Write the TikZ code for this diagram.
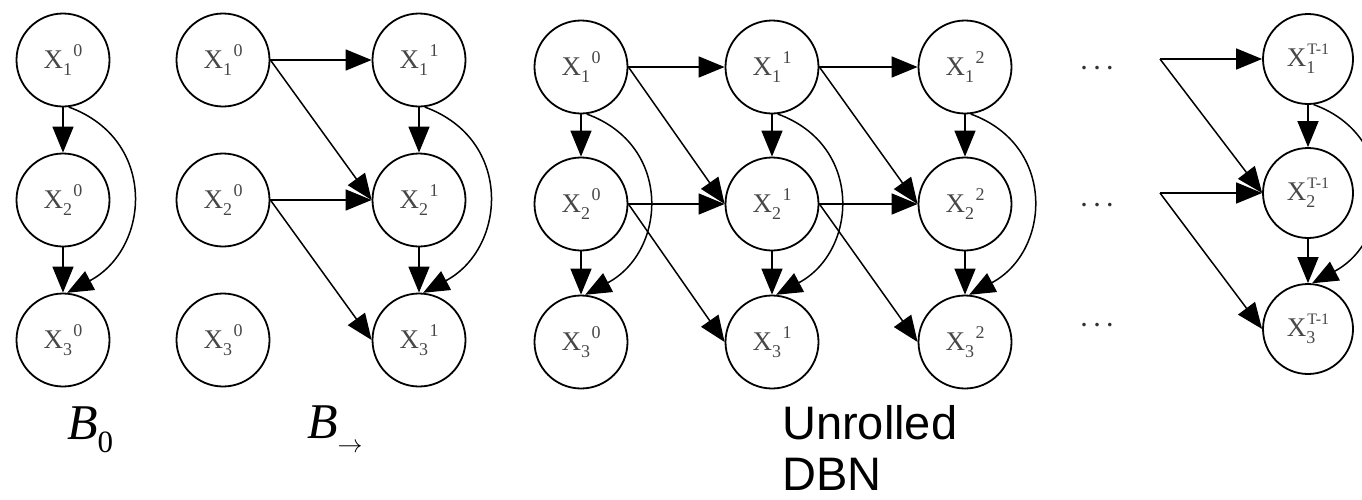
\documentclass[tikz,border=0pt]{standalone}
\usepackage{fontspec}
\setmainfont{Liberation Serif}
\newfontfamily\labelsans{Liberation Sans}
\usetikzlibrary{arrows.meta}

% variable label X_i^t (scripts side by side / stacked)
\newcommand{\xv}[2]{X\raisebox{-7pt}{\fontsize{18}{18}\selectfont #1}\kern1.5pt\raisebox{12pt}{\fontsize{18}{18}\selectfont #2}}
\newcommand{\xvs}[2]{X\rlap{\raisebox{-7pt}{\fontsize{18}{18}\selectfont #1}}\kern1pt\raisebox{12pt}{\fontsize{16}{16}\selectfont #2}}

\tikzset{
  var/.style={circle, draw, line width=1.8pt, minimum size=93pt, inner sep=0pt,
              text=black!72, font=\fontsize{27}{27}\selectfont},
  arr/.style={-{Triangle[length=26pt,width=21pt]}, line width=1.5pt},
  skiparc/.style={arr, out=-20, in=28, looseness=1.3},
  dots/.style={text=black!80, font=\fontsize{22}{22}\selectfont\bfseries, inner sep=0pt},
  caption/.style={anchor=base west, inner sep=0pt}
}

\begin{document}
\begin{tikzpicture}[x=1pt, y=-1pt]
\useasboundingbox (0,0) rectangle (1362,499);

% ---- prior network B_0
\node[var] (a1) at (63,60)  {\xv{1}{0}};
\node[var] (a2) at (63,200) {\xv{2}{0}};
\node[var] (a3) at (63,340) {\xv{3}{0}};
\draw[arr] (a1) -- (a2);
\draw[arr] (a2) -- (a3);
\draw[skiparc] (a1.-83) to (a3.85);

% ---- two-slice transition network
\node[var] (p1) at (223,60)  {\xv{1}{0}};
\node[var] (p2) at (223,200) {\xv{2}{0}};
\node[var] (p3) at (223,340) {\xv{3}{0}};
\node[var] (q1) at (419,60)  {\xv{1}{1}};
\node[var] (q2) at (419,200) {\xv{2}{1}};
\node[var] (q3) at (419,340) {\xv{3}{1}};
\draw[arr] (p1.east) -- (q1.west);
\draw[arr] (p1.east) -- (q2.west);
\draw[arr] (p2.east) -- (q2.west);
\draw[arr] (p2.east) -- (q3.west);
\draw[arr] (q1) -- (q2);
\draw[arr] (q2) -- (q3);
\draw[skiparc] (q1.-83) to (q3.85);

% ---- unrolled network
\foreach \t/\x in {0/581, 1/772, 2/965}{
  \node[var] (u1\t) at (\x,67)  {\xv{1}{\t}};
  \node[var] (u2\t) at (\x,204) {\xv{2}{\t}};
  \node[var] (u3\t) at (\x,342) {\xv{3}{\t}};
  \draw[arr] (u1\t) -- (u2\t);
  \draw[arr] (u2\t) -- (u3\t);
  \draw[skiparc] (u1\t.-83) to (u3\t.85);
}
\foreach \t/\n in {0/1, 1/2}{
  \draw[arr] (u1\t.east) -- (u1\n.west);
  \draw[arr] (u1\t.east) -- (u2\n.west);
  \draw[arr] (u2\t.east) -- (u2\n.west);
  \draw[arr] (u2\t.east) -- (u3\n.west);
}

\node[dots] (d1) at (1097,68)  {. . .};
\node[dots] (d2) at (1097,205) {. . .};
\node[dots] (d3) at (1097,325) {. . .};

% last slice
\node[var, minimum size=90pt] (t1) at (1308,59)  {\xvs{1}{T-1}};
\node[var, minimum size=90pt] (t2) at (1308,193) {\xvs{2}{T-1}};
\node[var, minimum size=90pt] (t3) at (1308,329) {\xvs{3}{T-1}};
\coordinate (s1) at (1160,59);
\coordinate (s2) at (1160,193);
\draw[arr] (s1) -- (t1.west);
\draw[arr] (s1) -- (t2.west);
\draw[arr] (s2) -- (t2.west);
\draw[arr] (s2) -- (t3.west);
\draw[arr] (t1) -- (t2);
\draw[arr] (t2) -- (t3);
\draw[skiparc] (t1.-83) to (t3.85);

% ---- captions
\node[caption] (cb0) at (67,439)
  {\fontsize{50}{50}\selectfont\itshape B\upshape\raisebox{-13pt}{\fontsize{31}{31}\selectfont 0}};
\node[caption] (cbt) at (307,438)
  {\fontsize{50}{50}\selectfont\itshape B\upshape\raisebox{-14.5pt}{\fontsize{30}{30}\selectfont$\rightarrow$}};
\node[caption, font=\labelsans\fontsize{47}{47}\selectfont] (cu1) at (782,439) {Unrolled};
\node[caption, font=\labelsans\fontsize{47}{47}\selectfont] (cu2) at (782,490) {DBN};
\end{tikzpicture}
\end{document}
